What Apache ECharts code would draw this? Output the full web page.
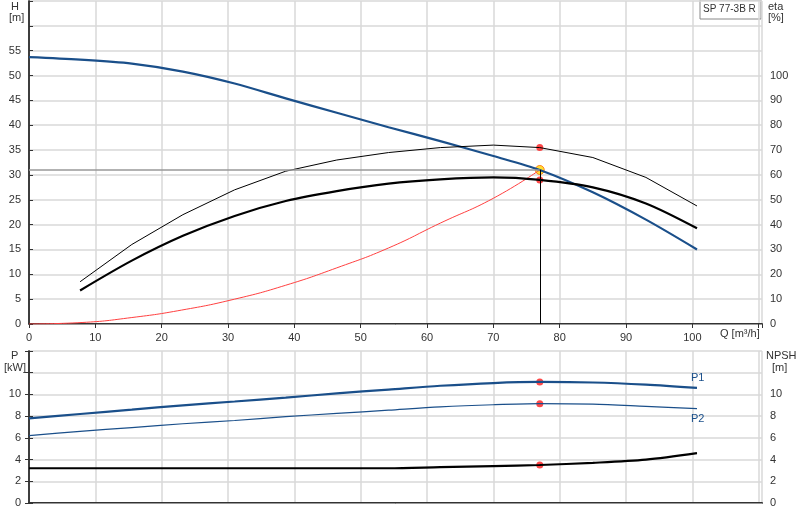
<!DOCTYPE html><html><head><meta charset="utf-8">
<script src="https://cdn.jsdelivr.net/npm/echarts@6/dist/echarts.min.js"></script>
<style>html,body{margin:0;background:#fff}#c{width:800px;height:520px}</style></head><body><div id="c"></div>
<script>
const qPts = [7.7,15.5,23.2,31,38.7,46.4,54.2,62,70,77,85,93,100.7];
const hQ = [0,7.7,15.5,23.2,31,38.7,46.4,54.2,62,70,77,85,93,100.7];
const hVals = [53.7,53.2,52.4,50.8,48.4,45.4,42.5,39.6,36.8,33.8,31,26.5,21,15];
const etaUpper = [17,32,44,54,61.5,66,69,71,72,71,67,59,47.5];
const etaLower = [13.5,25.5,35.5,43.5,49.5,53.5,56.5,58.2,59,58,55,48.5,38.5];
const sysQ = [0,8,15.5,23,31,38.7,46.4,54.2,62,70,77];
const sysH = [0,0.3,1.3,2.8,5,7.8,11.3,15.3,20.3,25.3,31];
const pQ = [0,7.7,15.5,23.2,31,38.7,46.4,54.2,62,70,77,85,93,100.7];
const p1 = [7.8,8.2,8.6,9.0,9.35,9.7,10.1,10.45,10.8,11.05,11.15,11.1,10.9,10.6];
const p2 = [6.2,6.6,6.95,7.3,7.6,7.95,8.25,8.55,8.85,9.05,9.15,9.1,8.9,8.7];
const npsh = [3.2,3.2,3.2,3.2,3.2,3.2,3.2,3.2,3.3,3.4,3.5,3.7,4.0,4.6];
const duty = {q:77,h:31,eta1:71,eta2:58,p1:11.15,p2:9.15,npsh:3.5};
const zip=(a,b)=>a.map((v,i)=>[v,b[i]]);
const grid='#d9d9d9', ax='#333', fs=11, ff='Arial, Liberation Sans, sans-serif';
const chart=echarts.init(document.getElementById('c'));
const xBase=(gi,labels)=>({gridIndex:gi,type:'value',min:0,max:110.5,interval:10,
 axisLine:{show:true,onZero:false,lineStyle:{color:ax,width:2}},axisTick:{show:labels,length:4,lineStyle:{color:ax}},
 axisLabel:{show:labels,color:'#333',fontSize:fs,fontFamily:ff,formatter:v=>v>100?'':v},
 splitLine:{show:true,lineStyle:{color:grid,width:1.5}}});
chart.setOption({animation:false,
 grid:[{left:29,right:38,top:1,height:323},{left:29,right:38,top:351,height:152}],
 xAxis:[xBase(0,true),xBase(1,false),
  {gridIndex:0,type:'value',min:0,max:110.5,position:'top',axisLine:{show:true,lineStyle:{color:'#999'}},axisTick:{show:false},axisLabel:{show:false},splitLine:{show:false}},
  {gridIndex:1,type:'value',min:0,max:110.5,position:'top',axisLine:{show:true,lineStyle:{color:'#999'}},axisTick:{show:false},axisLabel:{show:false},splitLine:{show:false}}],
 yAxis:[
  {gridIndex:0,type:'value',min:0,max:65,interval:5,axisLine:{show:true,lineStyle:{color:ax,width:1.5}},axisTick:{show:false},
   axisLabel:{color:'#333',fontSize:fs,fontFamily:ff,formatter:v=>v>55?'':v},splitLine:{lineStyle:{color:grid,width:1.5}}},
  {gridIndex:0,type:'value',min:0,max:130,interval:10,position:'right',axisLine:{show:true,lineStyle:{color:ax,width:1.5}},
   axisTick:{show:true,length:4,lineStyle:{color:ax}},axisLabel:{color:'#333',fontSize:fs,fontFamily:ff,formatter:v=>v>100?'':v},splitLine:{show:false}},
  {gridIndex:1,type:'value',min:0,max:14,interval:2,axisLine:{show:true,lineStyle:{color:ax,width:1.5}},axisTick:{show:true,length:4,inside:false},
   axisLabel:{color:'#333',fontSize:fs,fontFamily:ff,formatter:v=>v>10?'':v},splitLine:{lineStyle:{color:grid,width:1.5}}},
  {gridIndex:1,type:'value',min:0,max:14,interval:2,position:'right',axisLine:{show:true,lineStyle:{color:ax,width:1.5}},axisTick:{show:true,length:4},
   axisLabel:{color:'#333',fontSize:fs,fontFamily:ff,formatter:v=>v>10?'':v},splitLine:{show:false}}],
 series:[
  {type:'line',xAxisIndex:0,yAxisIndex:0,data:zip(sysQ,sysH),smooth:true,symbol:'none',lineStyle:{color:'#ff4040',width:1}},
  {type:'line',xAxisIndex:0,yAxisIndex:0,data:zip(hQ,hVals),smooth:0.3,symbol:'none',lineStyle:{color:'#1a4f8a',width:2.2},
   markLine:{silent:true,symbol:'none',label:{show:false},data:[
    [{coord:[0,duty.h],lineStyle:{color:'#999',width:1.5,type:'solid'}},{coord:[duty.q,duty.h]}],
    [{coord:[duty.q,0],lineStyle:{color:'#000',width:1,type:'solid'}},{coord:[duty.q,duty.h]}]]}},
  {type:'line',xAxisIndex:0,yAxisIndex:1,data:zip(qPts,etaUpper),symbol:'none',lineStyle:{color:'#000',width:1}},
  {type:'line',xAxisIndex:0,yAxisIndex:1,data:zip(qPts,etaLower),smooth:0.3,symbol:'none',lineStyle:{color:'#000',width:2.2}},
  {type:'scatter',xAxisIndex:0,yAxisIndex:1,data:[[duty.q,duty.eta1],[duty.q,duty.eta2]],symbolSize:7,itemStyle:{color:'#ff1a1a'}},
  {type:'scatter',xAxisIndex:0,yAxisIndex:0,data:[[duty.q,duty.h]],symbolSize:9,itemStyle:{color:'#ffd700',borderColor:'#ff6a00',borderWidth:1}},
  {type:'line',xAxisIndex:1,yAxisIndex:2,data:zip(pQ,p1),smooth:0.3,symbol:'none',lineStyle:{color:'#1a4f8a',width:2.2},
   endLabel:{show:true,formatter:'P1',color:'#1a4f8a',fontSize:fs,fontFamily:ff,offset:[-14,-10]}},
  {type:'line',xAxisIndex:1,yAxisIndex:2,data:zip(pQ,p2),smooth:0.3,symbol:'none',lineStyle:{color:'#1a4f8a',width:1.2},
   endLabel:{show:true,formatter:'P2',color:'#1a4f8a',fontSize:fs,fontFamily:ff,offset:[-14,10]}},
  {type:'line',xAxisIndex:1,yAxisIndex:3,data:zip(pQ,npsh),smooth:0.3,symbol:'none',lineStyle:{color:'#000',width:2.2}},
  {type:'scatter',xAxisIndex:1,yAxisIndex:2,data:[[duty.q,duty.p1],[duty.q,duty.p2]],symbolSize:7,itemStyle:{color:'#ff1a1a'}},
  {type:'scatter',xAxisIndex:1,yAxisIndex:3,data:[[duty.q,duty.npsh]],symbolSize:7,itemStyle:{color:'#ff1a1a'}}],
 graphic:[
  {type:'text',left:11,top:1,style:{text:'H',fontSize:fs,fontFamily:ff,fill:'#333'}},
  {type:'text',left:9,top:12,style:{text:'[m]',fontSize:fs,fontFamily:ff,fill:'#333'}},
  {type:'text',left:768,top:1,style:{text:'eta',fontSize:fs,fontFamily:ff,fill:'#333'}},
  {type:'text',left:768,top:12,style:{text:'[%]',fontSize:fs,fontFamily:ff,fill:'#333'}},
  {type:'rect',shape:{x:700,y:0,width:61,height:19},style:{fill:'#fff',stroke:'#888',lineWidth:1}},
  {type:'text',left:703,top:4,style:{text:'SP 77-3B R',fontSize:10,fontFamily:ff,fill:'#333'}},
  {type:'text',left:720,top:328,style:{text:'Q [m³/h]',fontSize:fs,fontFamily:ff,fill:'#333'}},
  {type:'text',left:11,top:350,style:{text:'P',fontSize:fs,fontFamily:ff,fill:'#333'}},
  {type:'text',left:4,top:362,style:{text:'[kW]',fontSize:fs,fontFamily:ff,fill:'#333'}},
  {type:'text',left:766,top:350,style:{text:'NPSH',fontSize:fs,fontFamily:ff,fill:'#333'}},
  {type:'text',left:772,top:362,style:{text:'[m]',fontSize:fs,fontFamily:ff,fill:'#333'}}]
});
</script></body></html>
